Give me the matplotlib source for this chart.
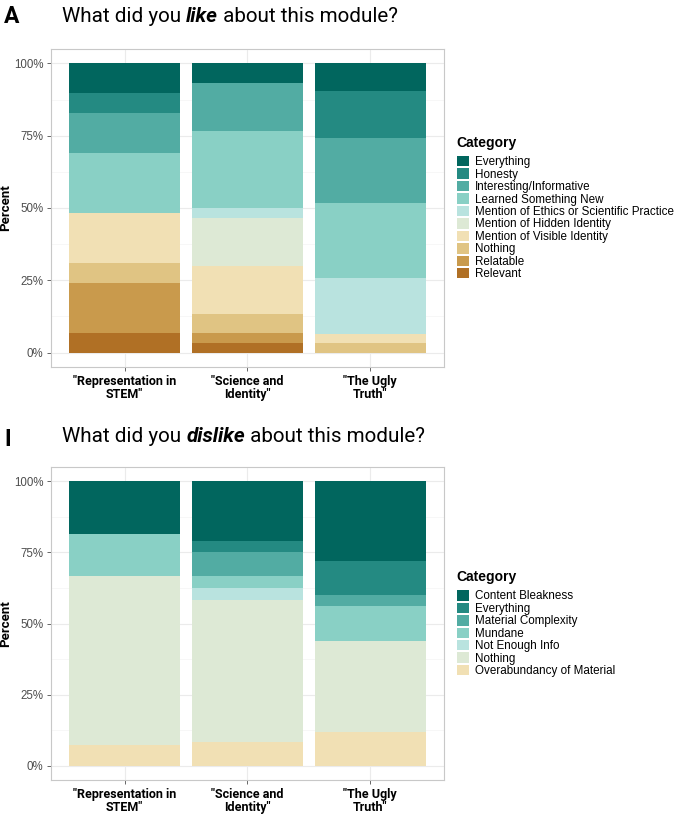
import numpy as np
import matplotlib.pyplot as plt
from matplotlib.patches import Patch
from matplotlib.ticker import FixedLocator

# modules (x axis)
modules = ['"Representation in\nSTEM"', '"Science and\nIdentity"', '"The Ugly\nTruth"']

# panel A: what did you like (response counts per module)
like_cats = ["Everything", "Honesty", "Interesting/Informative", "Learned Something New",
             "Mention of Ethics or Scientific Practice", "Mention of Hidden Identity",
             "Mention of Visible Identity", "Nothing", "Relatable", "Relevant"]
like_counts = {
    "Everything":                               [3, 2, 3],
    "Honesty":                                  [2, 0, 5],
    "Interesting/Informative":                  [4, 5, 7],
    "Learned Something New":                    [6, 8, 8],
    "Mention of Ethics or Scientific Practice": [0, 1, 6],
    "Mention of Hidden Identity":               [0, 5, 0],
    "Mention of Visible Identity":              [5, 5, 1],
    "Nothing":                                  [2, 2, 1],
    "Relatable":                                [5, 1, 0],
    "Relevant":                                 [2, 1, 0],
}
like_colors = ["#01665e", "#248a82", "#52aca3", "#89d0c5", "#b9e3df",
               "#dde9d5", "#f1e0b4", "#e0c483", "#c99a4c", "#b07025"]

# panel B: what did you dislike
dislike_cats = ["Content Bleakness", "Everything", "Material Complexity", "Mundane",
                "Not Enough Info", "Nothing", "Overabundancy of Material"]
dislike_counts = {
    "Content Bleakness":         [5, 5, 7],
    "Everything":                [0, 1, 3],
    "Material Complexity":       [0, 2, 1],
    "Mundane":                   [4, 1, 3],
    "Not Enough Info":           [0, 1, 0],
    "Nothing":                   [16, 12, 8],
    "Overabundancy of Material": [2, 2, 3],
}
dislike_colors = like_colors[:7]

yticks = [0, 0.25, 0.5, 0.75, 1.0]
ytick_labels = ["0%", "25%", "50%", "75%", "100%"]

W, H = 677, 814
fig = plt.figure(figsize=(W / 100, H / 100), dpi=100)


def px_axes(x0, y0, x1, y1):
    return fig.add_axes([x0 / W, 1 - y1 / H, (x1 - x0) / W, (y1 - y0) / H])


def draw_panel(ax, cats, counts, colors):
    x = np.arange(1, len(modules) + 1)
    totals = np.sum([counts[c] for c in cats], axis=0)
    bottom = np.zeros(len(modules))
    # first category sits on top of the stack, like ggplot
    for cat, col in reversed(list(zip(cats, colors))):
        vals = np.array(counts[cat]) / totals
        ax.bar(x, vals, bottom=bottom, width=0.9, color=col, linewidth=0)
        bottom += vals
    ax.set_xlim(0.4, 3.6)
    ax.set_ylim(-0.05, 1.05)
    ax.set_xticks(x)
    ax.set_xticklabels(modules, fontfamily="Roboto", fontweight="bold", fontsize=9.0,
                       color="black", linespacing=1.0)
    ax.set_yticks(yticks)
    ax.set_yticklabels(ytick_labels, fontfamily="Liberation Sans", fontsize=8.3, color="#4d4d4d")
    ax.yaxis.set_minor_locator(FixedLocator([0.125, 0.375, 0.625, 0.875]))
    ax.xaxis.set_minor_locator(FixedLocator([]))
    ax.grid(True, which="major", color="#ebebeb", linewidth=0.8)
    ax.grid(True, which="minor", axis="y", color="#f4f4f4", linewidth=0.5)
    ax.set_axisbelow(True)
    ax.tick_params(which="major", length=3, color="#4d4d4d", width=0.6, pad=2.5)
    ax.tick_params(which="minor", length=0)
    for s in ax.spines.values():
        s.set_color("#c8c8c8")
        s.set_linewidth(0.8)
    ax.set_ylabel("Percent", fontfamily="Roboto", fontweight="bold", fontsize=9.5)
    ax.yaxis.set_label_coords((12 - 51) / 393, 0.5)
    handles = [Patch(facecolor=c, edgecolor="none") for c in colors]
    leg = ax.legend(handles, cats, loc="center left", bbox_to_anchor=(1.02, 0.5), frameon=False,
                    title="Category", alignment="left",
                    title_fontproperties={"family": "Liberation Sans", "weight": "bold", "size": 10},
                    prop={"family": "Liberation Sans", "size": 8.4},
                    handlelength=1.03, handleheight=1.0, handletextpad=0.55,
                    labelspacing=0.02, borderaxespad=0)
    # a bit more room between the legend title and the keys
    leg._legend_box.sep = 4.5


def title(y, letter, word, ly):
    fig.text(4 / W, 1 - ly / H, letter, fontfamily="Roboto", fontweight="bold",
             fontsize=16.5, va="baseline", ha="left")
    r = fig.canvas.get_renderer()
    x = 62 / W
    for txt, style, weight in [("What did you ", "normal", "normal"),
                               (word, "italic", "bold"),
                               (" about this module?", "normal", "normal")]:
        t = fig.text(x, 1 - y / H, txt, fontfamily="Roboto", fontstyle=style, fontweight=weight,
                     fontsize=14.9, va="baseline", ha="left")
        bb = t.get_window_extent(renderer=r)
        x = bb.x1 / W


ax1 = px_axes(51, 49, 444, 367)
draw_panel(ax1, like_cats, like_counts, like_colors)
title(22, "A", "like", 23)

ax2 = px_axes(51, 467, 444, 780)
draw_panel(ax2, dislike_cats, dislike_counts, dislike_colors)
title(442, "I", "dislike", 446)

fig.savefig("out.png", dpi=100)
